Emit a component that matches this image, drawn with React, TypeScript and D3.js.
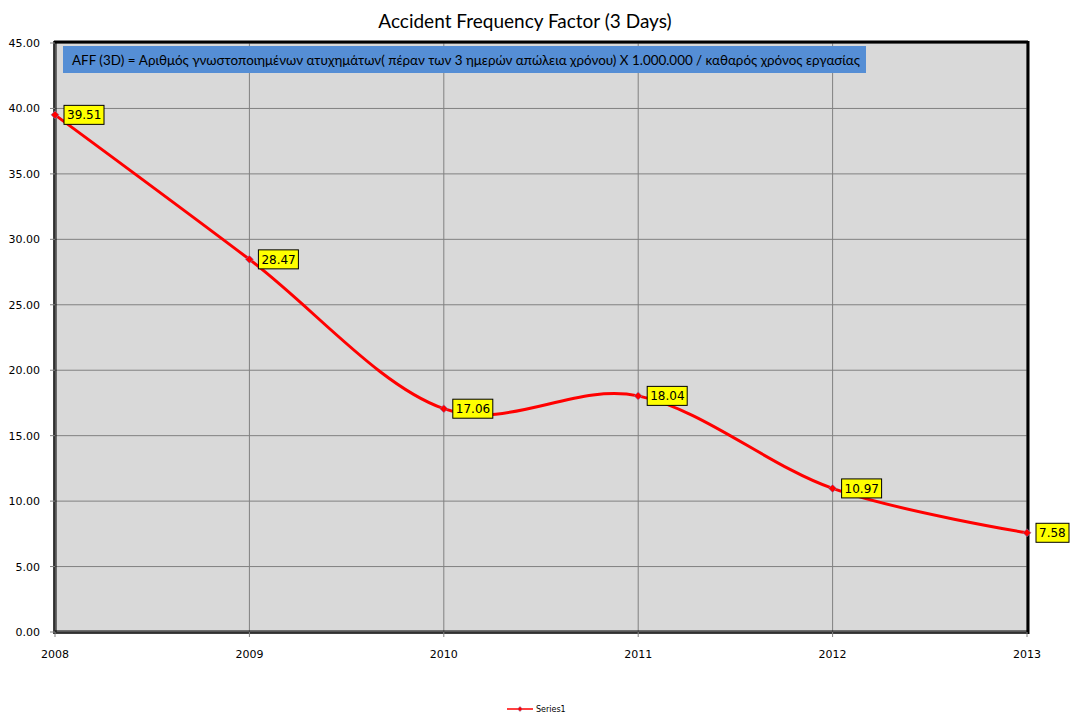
import React from "react";
import * as d3 from "d3";

const years = [2008, 2009, 2010, 2011, 2012, 2013];
const values = [39.51, 28.47, 17.06, 18.04, 10.97, 7.58];
const yTicks = [0, 5, 10, 15, 20, 25, 30, 35, 40, 45];
const title = "Accident Frequency Factor (3 Days)";
const note =
  "AFF (3D) = Αριθμός γνωστοποιημένων ατυχημάτων( πέραν των 3 ημερών απώλεια χρόνου) X 1.000.000  / καθαρός χρόνος εργασίας";
const seriesName = "Series1";

export default function App() {
  const W = 1070;
  const H = 719;
  const left = 55;
  const right = 1027;
  const top = 43;
  const bottom = 632;

  const x = d3.scaleLinear().domain([2008, 2013]).range([left, right]);
  const y = d3.scaleLinear().domain([0, 45]).range([bottom, top]);

  const pts: [number, number][] = years.map((yr, i) => [x(yr), y(values[i])]);
  const line = d3.line().curve(d3.curveCardinal.tension(0))(pts) || "";

  const labelFont = "Tahoma, 'DejaVu Sans', sans-serif";
  const diamond = (cx: number, cy: number, r: number) =>
    `M${cx},${cy - r}L${cx + r},${cy}L${cx},${cy + r}L${cx - r},${cy}Z`;

  return (
    <svg
      width={W}
      height={H}
      style={{ position: "absolute", left: 0, top: 0, background: "#fff" }}
    >
      <text
        x={525}
        y={28}
        textAnchor="middle"
        fontFamily="Lato, 'Open Sans', sans-serif"
        fontSize={19}
        fill="#000"
      >
        {title}
      </text>

      {/* plot area */}
      <rect x={left} y={top} width={right - left} height={bottom - top} fill="#D9D9D9" />

      {/* gridlines */}
      {yTicks.map((t) => (
        <line key={"h" + t} x1={left} x2={right} y1={y(t)} y2={y(t)} stroke="#808080" strokeWidth={1} />
      ))}
      {years.map((yr) => (
        <line key={"v" + yr} x1={x(yr)} x2={x(yr)} y1={top} y2={bottom} stroke="#808080" strokeWidth={1} />
      ))}

      {/* frame */}
      <line x1={left - 1} x2={right + 1} y1={top - 1} y2={top - 1} stroke="#000" strokeWidth={3} />
      <line x1={right + 1} x2={right + 1} y1={top - 2} y2={bottom + 2} stroke="#000" strokeWidth={3} />
      <line x1={left - 1} x2={left - 1} y1={top - 2} y2={bottom + 2} stroke="#000" strokeWidth={1.5} />
      <line x1={left + 1} x2={left + 1} y1={top} y2={bottom} stroke="#000" strokeWidth={1} />
      <line x1={left - 1} x2={right + 1} y1={bottom + 1} y2={bottom + 1} stroke="#000" strokeWidth={1.5} />
      <line x1={left} x2={right} y1={bottom - 1} y2={bottom - 1} stroke="#000" strokeWidth={1} />

      {/* y axis ticks and labels */}
      {yTicks.map((t) => (
        <g key={"yt" + t}>
          <line x1={left - 5} x2={left} y1={y(t)} y2={y(t)} stroke="#808080" />
          <text
            x={40}
            y={y(t) + 4}
            textAnchor="end"
            fontFamily={labelFont}
            fontSize={11}
            fill="#000"
          >
            {t.toFixed(2)}
          </text>
        </g>
      ))}

      {/* x axis ticks and labels */}
      {years.map((yr) => (
        <g key={"xt" + yr}>
          <line x1={x(yr)} x2={x(yr)} y1={bottom} y2={bottom + 5} stroke="#808080" />
          <text
            x={x(yr)}
            y={658}
            textAnchor="middle"
            fontFamily={labelFont}
            fontSize={11}
            fill="#000"
          >
            {yr}
          </text>
        </g>
      ))}

      {/* annotation box */}
      <rect x={63} y={46} width={803} height={27} fill="#558ED5" />
      <text
        x={72}
        y={64.5}
        fontFamily="Lato, 'Open Sans', sans-serif"
        fontSize={13}
        fill="#000"
        textLength={788}
        lengthAdjust="spacingAndGlyphs"
      >
        {note}
      </text>

      {/* series line */}
      <path d={line} fill="none" stroke="#FF0000" strokeWidth={3} />

      {/* markers */}
      {pts.map(([px, py], i) => (
        <path key={"m" + i} d={diamond(px, py, 4)} fill="#FF0000" stroke="#7F7FBF" strokeWidth={0.6} />
      ))}

      {/* data labels */}
      {pts.map(([px, py], i) => {
        const txt = values[i].toFixed(2);
        const w = txt.length * 7 + 5;
        return (
          <g key={"l" + i}>
            <rect x={px + 9} y={py - 9.5} width={w} height={19} fill="#FFFF00" stroke="#000" strokeWidth={1} />
            <text
              x={px + 12}
              y={py + 4.5}
              fontFamily={labelFont}
              fontSize={12}
              fill="#000"
            >
              {txt}
            </text>
          </g>
        );
      })}

      {/* legend */}
      <line x1={507} x2={533} y1={709} y2={709} stroke="#FF0000" strokeWidth={1.5} />
      <path d={diamond(520, 709, 2.5)} fill="#FF0000" stroke="#7F7FBF" strokeWidth={0.5} />
      <text x={536} y={712} fontFamily={labelFont} fontSize={8} fill="#000">
        {seriesName}
      </text>
    </svg>
  );
}
